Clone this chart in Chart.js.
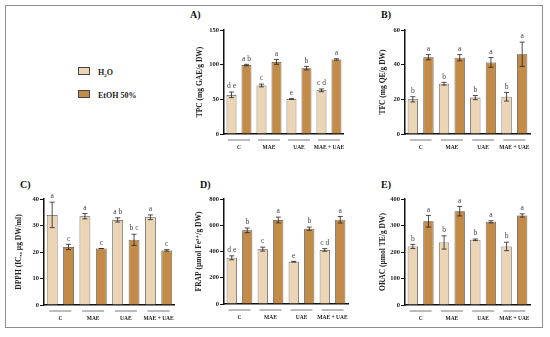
<!DOCTYPE html>
<html>
<head>
<meta charset="utf-8">
<script src="https://cdn.jsdelivr.net/npm/chart.js@4.4.1/dist/chart.umd.min.js"></script>
<style>
  body { margin: 0; background: #fff; width: 550px; height: 337px; position: relative; overflow: hidden; font-family: "Liberation Serif", serif; }
  .frame { position: absolute; left: 5px; top: 5px; width: 538px; height: 323px; border: 1.5px solid #8d8d8d; box-sizing: border-box; }
  canvas { position: absolute; }
  .pl { position: absolute; font-weight: bold; font-size: 10px; color: #111; }
  .lg { position: absolute; font-weight: bold; font-size: 8px; color: #222; }
  .lg i { display: inline-block; width: 10px; height: 6px; border: 0.8px solid #444; margin-right: 8px; vertical-align: -0.5px; }
</style>
</head>
<body>
<div class="frame"></div>

<div class="lg" style="left:78px; top:67px;"><i style="background:#ecd5b5"></i>H<sub style="font-size:5px">2</sub>O</div>
<div class="lg" style="left:78px; top:90px;"><i style="background:#c28c48"></i>EtOH 50%</div>

<div class="pl" style="left:190px; top:9px;">A)</div>
<div class="pl" style="left:381px; top:9px;">B)</div>
<div class="pl" style="left:20px; top:179px;">C)</div>
<div class="pl" style="left:200px; top:179px;">D)</div>
<div class="pl" style="left:381px; top:179px;">E)</div>

<canvas id="cA" width="175" height="160" style="left:180px; top:0px;"></canvas>
<canvas id="cB" width="175" height="160" style="left:370px; top:0px;"></canvas>
<canvas id="cC" width="185" height="170" style="left:0px; top:160px;"></canvas>
<canvas id="cD" width="180" height="170" style="left:180px; top:160px;"></canvas>
<canvas id="cE" width="175" height="170" style="left:370px; top:160px;"></canvas>

<script>
const groups = ['C', 'MAE', 'UAE', 'MAE + UAE'];
const seriesNames = ['H₂O', 'EtOH 50%'];

// A) TPC
const tpcWater = [56.5, 70, 50.5, 63];
const tpcWaterErr = [4, 2, 0.5, 2];
const tpcWaterLetters = ['d e', 'c', 'e', 'c d'];
const tpcEtoh = [99.5, 104, 95, 107.5];
const tpcEtohErr = [1, 3.5, 2.5, 1];
const tpcEtohLetters = ['a b', 'a', 'b', 'a'];

// B) TFC
const tfcWater = [20, 29, 21, 21.5];
const tfcWaterErr = [1.5, 0.8, 1.2, 2.5];
const tfcWaterLetters = ['b', 'b', 'b', 'b'];
const tfcEtoh = [44.3, 44, 41.3, 46];
const tfcEtohErr = [1.5, 1.8, 2.8, 7];
const tfcEtohLetters = ['a', 'a', 'a', 'a'];

// C) DPPH
const dpphWater = [34, 33.5, 32.1, 33.1];
const dpphWaterErr = [4.8, 1, 0.8, 0.9];
const dpphWaterLetters = ['a', 'a', 'a b', 'a'];
const dpphEtoh = [21.9, 21.3, 24.6, 20.6];
const dpphEtohErr = [1, 0, 2.1, 0.3];
const dpphEtohLetters = ['c', 'c', 'b c', 'c'];

// D) FRAP
const frapWater = [352, 418, 322, 412];
const frapWaterErr = [15, 15, 3, 10];
const frapWaterLetters = ['d e', 'c', 'e', 'c d'];
const frapEtoh = [561, 640, 574, 642];
const frapEtohErr = [18, 22, 12, 25];
const frapEtohLetters = ['b', 'a', 'b', 'a'];

// E) ORAC
const oracWater = [221, 236, 246, 221];
const oracWaterErr = [8, 25, 3, 16];
const oracWaterLetters = ['b', 'b', 'b', 'b'];
const oracEtoh = [316, 354, 314, 338];
const oracEtohErr = [22, 18, 4, 6];
const oracEtohLetters = ['a', 'a', 'a', 'a'];

const lightColor = '#ecd5b5';
const darkColor = '#c28c48';
const serif = "'Liberation Serif', 'DejaVu Serif', serif";

// error bars, letters above the bars, and the short lines under each group
const annotate = {
  id: 'annotate',
  afterDatasetsDraw(chart) {
    const { ctx, scales: { x, y } } = chart;
    ctx.save();
    chart.data.datasets.forEach((ds, di) => {
      const meta = chart.getDatasetMeta(di);
      meta.data.forEach((bar, i) => {
        const v = ds.data[i], e = ds.errors[i];
        const yt = y.getPixelForValue(v + e);
        const yb = y.getPixelForValue(v - e);
        ctx.strokeStyle = '#222';
        ctx.lineWidth = 0.8;
        ctx.beginPath();
        ctx.moveTo(bar.x, yt); ctx.lineTo(bar.x, yb);
        ctx.moveTo(bar.x - 2.5, yt); ctx.lineTo(bar.x + 2.5, yt);
        ctx.moveTo(bar.x - 2.5, yb); ctx.lineTo(bar.x + 2.5, yb);
        ctx.stroke();
        ctx.fillStyle = '#444';
        ctx.font = '7.5px ' + serif;
        ctx.textAlign = 'center';
        ctx.textBaseline = 'bottom';
        ctx.fillText(ds.letters[i], bar.x, yt - 2);
      });
    });
    ctx.strokeStyle = '#555';
    ctx.lineWidth = 0.8;
    groups.forEach((g, i) => {
      const cx = x.getPixelForValue(i);
      ctx.beginPath();
      ctx.moveTo(cx - 11, x.top + 6);
      ctx.lineTo(cx + 11, x.top + 6);
      ctx.stroke();
    });
    ctx.restore();
  }
};

function makePanel(id, water, waterErr, waterLetters, etoh, etohErr, etohLetters, yMax, step, yTitle, box) {
  return new Chart(document.getElementById(id), {
    type: 'bar',
    data: {
      labels: groups,
      datasets: [
        { label: seriesNames[0], data: water, errors: waterErr, letters: waterLetters,
          backgroundColor: lightColor, borderColor: '#4a4a4a', borderWidth: 0.8 },
        { label: seriesNames[1], data: etoh, errors: etohErr, letters: etohLetters,
          backgroundColor: darkColor, borderColor: '#4a4a4a', borderWidth: 0.8 }
      ]
    },
    options: {
      responsive: false,
      animation: false,
      layout: { padding: box.pad },
      datasets: { bar: { categoryPercentage: 1.0, barPercentage: 0.66 } },
      plugins: { legend: { display: false }, tooltip: { enabled: false } },
      scales: {
        x: {
          grid: { display: false, drawTicks: false },
          border: { display: true, color: '#111', width: 1.5 },
          ticks: { font: { family: serif, size: 5.5, weight: 'bold' }, color: '#222', padding: 10, maxRotation: 0, autoSkip: false },
          afterFit(s) { s.height = box.xH; }
        },
        y: {
          min: 0, max: yMax,
          ticks: { stepSize: step, font: { family: serif, size: 6.5, weight: 'bold' }, color: '#222', padding: 1 },
          grid: { drawOnChartArea: false, drawTicks: true, tickLength: 4, color: '#111', lineWidth: 1 },
          border: { display: true, color: '#111', width: 1.5 },
          title: { display: true, text: yTitle, font: { family: serif, size: 7.5, weight: 'bold' }, color: '#222', padding: { top: 0, bottom: 0 } },
          afterFit(s) { s.width = box.yW; }
        }
      }
    },
    plugins: [annotate]
  });
}

makePanel('cA', tpcWater, tpcWaterErr, tpcWaterLetters, tpcEtoh, tpcEtohErr, tpcEtohLetters,
  150, 50, 'TPC (mg GAE/g DW)', { pad: { left: 16, top: 30, right: 7, bottom: 0 }, yW: 28, xH: 26 });
makePanel('cB', tfcWater, tfcWaterErr, tfcWaterLetters, tfcEtoh, tfcEtohErr, tfcEtohLetters,
  60, 20, 'TFC (mg QE/g DW)', { pad: { left: 9, top: 30, right: 15, bottom: 0 }, yW: 26, xH: 26 });
makePanel('cC', dpphWater, dpphWaterErr, dpphWaterLetters, dpphEtoh, dpphEtohErr, dpphEtohLetters,
  40, 10, 'DPPH (IC₅₀ µg DW/ml)', { pad: { left: 15, top: 39, right: 10, bottom: 0 }, yW: 29, xH: 25 });
makePanel('cD', frapWater, frapWaterErr, frapWaterLetters, frapEtoh, frapEtohErr, frapEtohLetters,
  800, 200, 'FRAP (µmol Fe²⁺/g DW)', { pad: { left: 15, top: 39, right: 12, bottom: 0 }, yW: 29, xH: 26 });
makePanel('cE', oracWater, oracWaterErr, oracWaterLetters, oracEtoh, oracEtohErr, oracEtohLetters,
  400, 100, 'ORAC (µmol TE/g DW)', { pad: { left: 9, top: 39, right: 15, bottom: 0 }, yW: 26, xH: 25 });
</script>
</body>
</html>
